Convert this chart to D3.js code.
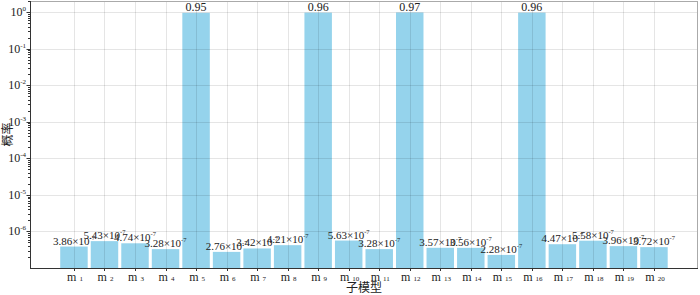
<!DOCTYPE html>
<html>
<head>
<meta charset="utf-8">
<script src="https://cdn.jsdelivr.net/npm/d3@7"></script>
<style>
  body { margin: 0; background: #fff; }
  text { font-family: "Liberation Serif", "Times New Roman", serif; fill: #222; }
  .cjk { font-family: "Noto Sans CJK SC", sans-serif; }
</style>
</head>
<body>
<svg id="chart" width="700" height="295"></svg>
<script>
const models = d3.range(1, 21);
const probs = [3.86e-7, 5.43e-7, 4.74e-7, 3.28e-7, 0.95, 2.76e-7, 3.42e-7, 4.21e-7, 0.96, 5.63e-7,
               3.28e-7, 0.97, 3.57e-7, 3.56e-7, 2.28e-7, 0.96, 4.47e-7, 5.58e-7, 3.96e-7, 3.72e-7];
const yExps = [-6, -5, -4, -3, -2, -1, 0];

const svg = d3.select("#chart");
const mLeft = 30, mRight = 697, mTop = 1, mBottom = 268;

const x = d3.scaleLinear().domain([-1.44, 20.41]).range([mLeft, mRight]);
const y = d3.scaleLog().domain([1e-7, 2]).range([mBottom, mTop]);
const bw = (x(1) - x(0)) * 0.9;

// bars
svg.append("g").selectAll("rect")
  .data(probs)
  .join("rect")
  .attr("x", (d, i) => x(i) - bw / 2)
  .attr("width", bw)
  .attr("y", d => y(d))
  .attr("height", d => mBottom - y(d))
  .attr("fill", "#95d3ec");

// grid (drawn on top, faint)
const grid = svg.append("g").attr("stroke", "rgba(0,0,0,0.1)").attr("stroke-width", 1);
grid.selectAll(".vg").data(models).join("line")
  .attr("x1", (d, i) => Math.round(x(i)) + 0.5).attr("x2", (d, i) => Math.round(x(i)) + 0.5)
  .attr("y1", mTop).attr("y2", mBottom);
grid.selectAll(".hg").data(yExps).join("line")
  .attr("x1", mLeft).attr("x2", mRight)
  .attr("y1", d => Math.round(y(Math.pow(10, d))) + 0.5)
  .attr("y2", d => Math.round(y(Math.pow(10, d))) + 0.5);

// frame
svg.append("rect").attr("x", mLeft + 0.5).attr("y", mTop + 0.5)
  .attr("width", mRight - mLeft).attr("height", mBottom - mTop)
  .attr("fill", "none").attr("stroke", "#aaa");
svg.append("line").attr("x1", mLeft + 0.5).attr("x2", mLeft + 0.5).attr("y1", mTop).attr("y2", mBottom + 0.5)
  .attr("stroke", "#333");
svg.append("line").attr("x1", mLeft).attr("x2", mRight + 1).attr("y1", mBottom + 0.5).attr("y2", mBottom + 0.5)
  .attr("stroke", "#333");

// y ticks (major + minor)
const minor = [];
for (let e = -7; e <= 0; e++) for (let m = 2; m <= 9; m++) {
  const v = m * Math.pow(10, e);
  if (v <= 2) minor.push(v);
}
svg.append("g").attr("stroke", "#333").selectAll("line").data(minor).join("line")
  .attr("x1", mLeft - 2).attr("x2", mLeft)
  .attr("y1", d => Math.round(y(d)) + 0.5).attr("y2", d => Math.round(y(d)) + 0.5);
svg.append("g").attr("stroke", "#333").selectAll("line").data(yExps).join("line")
  .attr("x1", mLeft - 3.5).attr("x2", mLeft)
  .attr("y1", d => Math.round(y(Math.pow(10, d))) + 0.5).attr("y2", d => Math.round(y(Math.pow(10, d))) + 0.5);

const yt = svg.append("g").selectAll("text").data(yExps).join("text")
  .attr("x", 26).attr("y", d => y(Math.pow(10, d)) + 4)
  .attr("text-anchor", "end").attr("font-size", 12);
yt.append("tspan").text("10");
yt.append("tspan").attr("dy", -5).attr("font-size", 7).text(d => d === 0 ? "0" : "-" + (-d));

// x ticks
svg.append("g").attr("stroke", "#333").selectAll("line").data(models).join("line")
  .attr("x1", (d, i) => Math.round(x(i)) + 0.5).attr("x2", (d, i) => Math.round(x(i)) + 0.5)
  .attr("y1", mBottom).attr("y2", mBottom + 3);
const xt = svg.append("g").selectAll("text").data(models).join("text")
  .attr("x", (d, i) => x(i) + 1).attr("y", 280.5)
  .attr("text-anchor", "middle").attr("font-size", 12);
xt.append("tspan").text("m ");
xt.append("tspan").attr("font-size", 7).attr("dy", 0.5).text(d => d);

// value labels
const vl = svg.append("g").selectAll("text").data(probs).join("text")
  .attr("x", (d, i) => x(i))
  .attr("y", d => y(d) - 2)
  .attr("text-anchor", "middle")
  .attr("font-size", d => d > 0.1 ? 12 : 11);
vl.each(function(d) {
  const t = d3.select(this);
  if (d > 0.1) {
    t.text(d3.format(".2f")(d));
  } else {
    const e = Math.floor(Math.log10(d));
    const m = d / Math.pow(10, e);
    t.append("tspan").text(m.toFixed(2) + "×10");
    t.append("tspan").attr("dy", -5).attr("font-size", 6.5).text(e);
  }
});

// axis titles
svg.append("text").attr("class", "cjk").attr("x", 364).attr("y", 292)
  .attr("text-anchor", "middle").attr("font-size", 12).text("子模型");
svg.append("text").attr("class", "cjk")
  .attr("transform", "translate(12," + ((mTop + mBottom) / 2) + ") rotate(-90)")
  .attr("text-anchor", "middle").attr("font-size", 12).text("概率");
</script>
</body>
</html>
